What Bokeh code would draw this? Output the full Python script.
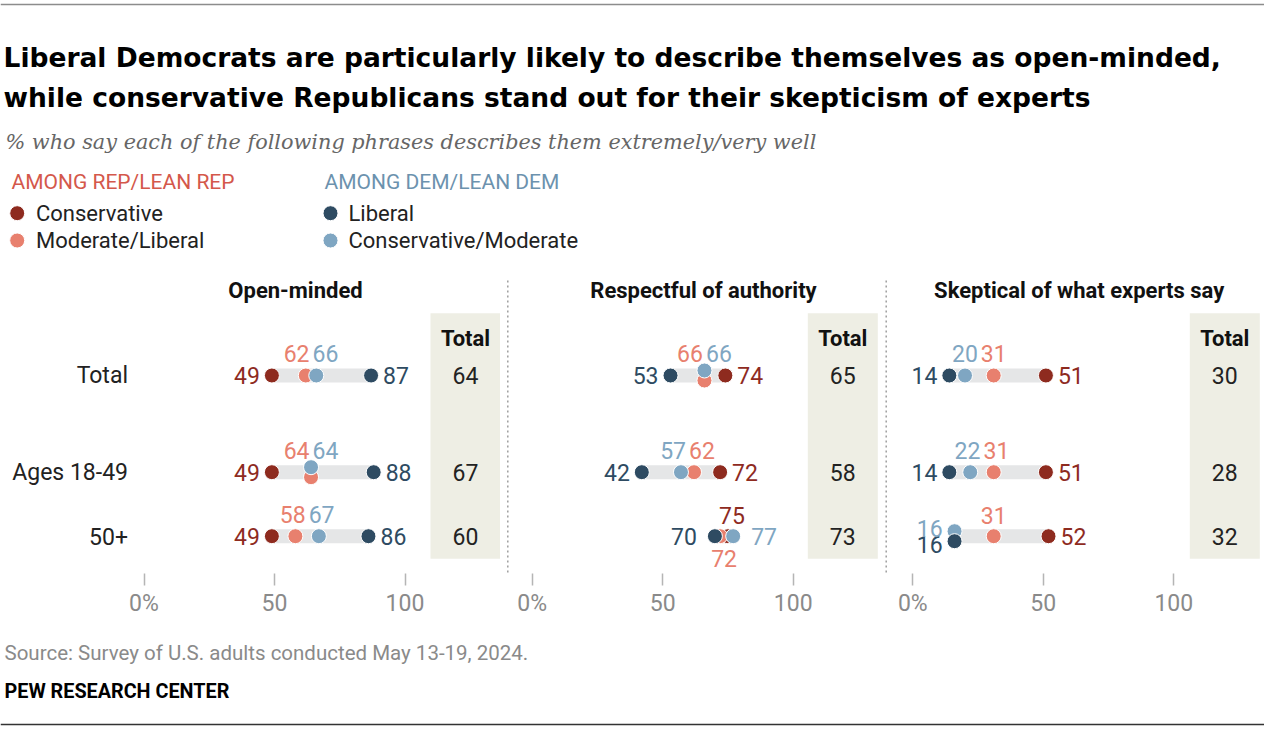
from bokeh.plotting import figure
from bokeh.layouts import column, row
from bokeh.models import Range1d, FixedTicker, ColumnDataSource
from bokeh.core.properties import value
from bokeh.embed import file_html
from bokeh.resources import INLINE

# ---------------- data ----------------
title_lines = [
    "Liberal Democrats are particularly likely to describe themselves as open-minded,",
    "while conservative Republicans stand out for their skepticism of experts",
]
subtitle = "% who say each of the following phrases describes them extremely/very well"
group_names = ["AMONG REP/LEAN REP", "AMONG DEM/LEAN DEM"]
series_names = ["Conservative", "Moderate/Liberal", "Liberal", "Conservative/Moderate"]
panel_titles = ["Open-minded", "Respectful of authority", "Skeptical of what experts say"]
row_labels = ["Total", "Ages 18-49", "50+"]
total_header = "Total"

# values per panel (outer) and per row (inner)
rep_conservative = [[49, 49, 49], [74, 72, 75], [51, 51, 52]]
rep_moderate = [[62, 64, 58], [66, 62, 72], [31, 31, 31]]
dem_liberal = [[87, 88, 86], [53, 42, 70], [14, 14, 16]]
dem_conservative = [[66, 64, 67], [66, 57, 77], [20, 22, 16]]
totals = [[64, 67, 60], [65, 58, 73], [30, 28, 32]]

tick_values = [0, 50, 100]
tick_labels = ["0%", "50", "100"]
source_note = "Source: Survey of U.S. adults conducted May 13-19, 2024."
brand = "PEW RESEARCH CENTER"

# ---------------- style / layout ----------------
FONT = "Roboto"
TITLE_FONT = "DejaVu Sans"
SERIF = "DejaVu Serif"
series_colors = ["#8E2B1F", "#E8806E", "#2E4B62", "#7FA6C2"]
group_colors = ["#D4584B", "#6C92AE"]
TRACK = "#E5E6E7"
BOX = "#EEEEE4"
INK = "#222222"
GRAY = "#8A8A8A"

W = 1264
HEAD_H = 270
FOOT_H = 107
PXU = 2.61                      # pixels per percentage point
panel_edges = [0, 500, 878, 1264]
zero_px = [143.5, 531.7, 912.3]
FRAME_H = 303
row_y = [105, 201.7, 265.7]
title_px = [295, 703, 1078.7]
title_y = 20
header_y = 68.3
BOX_TOP, BOX_BOTTOM = 42.7, 288.3
box_px = [430, 807.3, 1189.3]
BOX_W = 70
sep_px = [None, 507.3, 885.7]
DOT = 15
TIE = 5
SIDE_GAP = 12
WIDE_GAP = 18
ABOVE = 22
LABEL_W = 26
LABEL_FS = "23px"

# label placement per panel, per row, per series (rc, rm, dl, dc)
placement = [
    [["L", "A", "R", "A"], ["L", "A", "R", "A"], ["L", "A", "R", "A"]],
    [["R", "A", "L", "A"], ["R", "A", "L", "A"], ["A", "B", "L2", "R2"]],
    [["R", "A", "L", "A"], ["R", "A", "L", "A"], ["R", "A", "LB", "LA"]],
]


def tk(size, color, align="left", baseline="middle", style="normal", font=FONT):
    return dict(text_font=value(font), text_font_size=size, text_color=color,
                text_align=align, text_baseline=baseline, text_font_style=style)


def blank_fig(fw, fh, xr, yr):
    p = figure(frame_width=fw, frame_height=fh, x_range=xr, y_range=yr,
               output_backend="svg", toolbar_location=None, min_border=0,
               min_border_left=0, min_border_right=0, min_border_top=0, min_border_bottom=0,
               x_axis_location=None, y_axis_location=None,
               background_fill_color="white", border_fill_color="white",
               outline_line_color=None)
    p.grid.visible = False
    return p


# ---------------- header ----------------
head = blank_fig(W, HEAD_H, Range1d(0, W), Range1d(HEAD_H, 0))
head.segment(x0=[0], y0=[4], x1=[W], y1=[4], line_color="#8C8C8C", line_width=1.5)
head.text(x=[3, 3], y=[57, 97], text=title_lines,
          **tk("26.5px", "#000000", baseline="alphabetic", style="bold", font=TITLE_FONT))
head.text(x=[5], y=[141.5], text=[subtitle],
          **tk("20.8px", "#666666", baseline="alphabetic", style="italic", font=SERIF))
group_x = [11, 324]
head.text(x=[group_x[0]], y=[181.7], text=[group_names[0]], **tk("21px", group_colors[0]))
head.text(x=[group_x[1]], y=[181.7], text=[group_names[1]], **tk("21px", group_colors[1]))
leg_dot_x = [16.7, 16.7, 330, 330]
leg_text_x = [35.5, 35.5, 348, 348]
leg_y = [212.7, 240, 212.7, 240]
head.scatter(x=leg_dot_x, y=leg_y, size=DOT, fill_color=series_colors, line_color="white",
             line_width=1)
head.text(x=leg_text_x, y=leg_y, text=series_names, **tk("22px", INK))

# ---------------- panels ----------------
panels = []
for k in range(3):
    vals = [rep_conservative[k], rep_moderate[k], dem_liberal[k], dem_conservative[k]]

    def d(px, k=k):
        return (px - zero_px[k]) / PXU

    fw = panel_edges[k + 1] - panel_edges[k]
    p = figure(frame_width=fw, frame_height=FRAME_H,
               x_range=Range1d(d(panel_edges[k]), d(panel_edges[k + 1])),
               y_range=Range1d(FRAME_H, 0), output_backend="svg", toolbar_location=None,
               min_border=0, min_border_left=0, min_border_right=0, min_border_top=0,
               min_border_bottom=0, y_axis_location=None,
               background_fill_color="white", border_fill_color="white",
               outline_line_color=None)
    p.grid.visible = False
    ax = p.xaxis[0]
    ax.ticker = FixedTicker(ticks=tick_values)
    ax.major_label_overrides = {t: l for t, l in zip(tick_values, tick_labels)}
    ax.axis_line_color = None
    ax.major_tick_in = 0
    ax.major_tick_out = 12
    ax.major_tick_line_color = "#B5B5B5"
    ax.major_tick_line_width = 1.5
    ax.minor_tick_line_color = None
    ax.major_label_standoff = 4
    ax.major_label_text_color = GRAY
    ax.major_label_text_font = FONT
    ax.major_label_text_font_size = LABEL_FS

    # separator
    if sep_px[k] is not None:
        sx = d(sep_px[k])
        p.segment(x0=[sx], y0=[10], x1=[sx], y1=[FRAME_H], line_color="#9E9E9E",
                  line_width=1.5, line_dash="2 3")

    # total column
    bl, br = d(box_px[k]), d(box_px[k] + BOX_W)
    bc = (bl + br) / 2
    p.quad(left=[bl], right=[br], top=[BOX_TOP], bottom=[BOX_BOTTOM], fill_color=BOX,
           line_color=None)
    p.text(x=[bc], y=[header_y], text=[total_header],
           **tk("22px", "#111111", "center", style="bold"))
    p.text(x=[bc] * 3, y=row_y, text=[str(t) for t in totals[k]], **tk(LABEL_FS, INK, "center"))

    # panel title
    p.text(x=[d(title_px[k])], y=[title_y], text=[panel_titles[k]],
           **tk("22px", "#111111", "center", style="bold"))

    # row labels
    if k == 0:
        p.text(x=[0] * 3, y=row_y, text=row_labels, x_offset=-16, **tk(LABEL_FS, INK, "right"))

    # track
    lo = [min(v[r] for v in vals) for r in range(3)]
    hi = [max(v[r] for v in vals) for r in range(3)]
    p.hbar(y=row_y, left=lo, right=hi, height=14, fill_color=TRACK, line_color=None)

    # tie offsets
    offs = [[0.0] * 3 for _ in range(4)]
    for r in range(3):
        for s in range(4):
            if any(vals[s2][r] == vals[s][r] for s2 in range(4) if s2 != s):
                offs[s][r] = -TIE if s == 3 else TIE

    for s in [0, 1, 3, 2]:
        p.scatter(x=vals[s], y=[row_y[r] + offs[s][r] for r in range(3)], size=DOT,
                  fill_color=series_colors[s], line_color="white", line_width=1)

    # value labels
    lab = {"left": dict(x=[], y=[], t=[], c=[], xo=[]),
           "center": dict(x=[], y=[], t=[], c=[], xo=[]),
           "right": dict(x=[], y=[], t=[], c=[], xo=[])}

    def add(align, x, y, s, v, xo=0.0):
        L = lab[align]
        L["x"].append(x); L["y"].append(y); L["t"].append(str(v))
        L["c"].append(series_colors[s]); L["xo"].append(xo)

    for r in range(3):
        codes = placement[k][r]
        ry = row_y[r]
        a_idx = [s for s in range(4) if codes[s] == "A"]
        paired = False
        if len(a_idx) == 2:
            s_lo, s_hi = sorted(a_idx, key=lambda s: (vals[s][r], s))
            v_lo, v_hi = vals[s_lo][r], vals[s_hi][r]
            if (v_hi - v_lo) * PXU < LABEL_W + 3:
                mid = (v_lo + v_hi) / 2
                add("right", mid, ry - ABOVE, s_lo, v_lo, -1.5)
                add("left", mid, ry - ABOVE, s_hi, v_hi, 1.5)
                paired = True
        for s in range(4):
            v = vals[s][r]
            c = codes[s]
            if c == "A" and not paired:
                add("center", v, ry - ABOVE + (1 if len(a_idx) == 1 else 0), s, v,
                    4 if len(a_idx) == 1 and codes.count("B") else 0)
            elif c == "B":
                add("center", v, ry + ABOVE, s, v, 4)
            elif c == "L":
                add("right", v, ry, s, v, -SIDE_GAP)
            elif c == "R":
                add("left", v, ry, s, v, SIDE_GAP)
            elif c == "L2":
                add("right", v, ry, s, v, -WIDE_GAP)
            elif c == "R2":
                add("left", v, ry, s, v, WIDE_GAP)
            elif c == "LA":
                add("right", v, ry - 8, s, v, -SIDE_GAP)
            elif c == "LB":
                add("right", v, ry + 8, s, v, -SIDE_GAP)

    for align, L in lab.items():
        if not L["x"]:
            continue
        src = ColumnDataSource(dict(x=L["x"], y=L["y"], t=L["t"], col=L["c"], xo=L["xo"]))
        p.text(x="x", y="y", text="t", source=src, x_offset="xo",
               text_color="col", text_font=value(FONT), text_font_size=LABEL_FS,
               text_align=align, text_baseline="middle")
    panels.append(p)

# ---------------- footer ----------------
foot = blank_fig(W, FOOT_H, Range1d(0, W), Range1d(FOOT_H, 0))
foot.text(x=[4], y=[33], text=[source_note], **tk("20.5px", "#8A8A8A"))
foot.text(x=[4], y=[72], text=[brand], **tk("19.8px", "#000000", style="bold"))
foot.segment(x0=[0], y0=[FOOT_H - 2], x1=[W], y1=[FOOT_H - 2], line_color="#333333",
             line_width=1.5)

layout = column(head, row(*panels, spacing=0), foot, spacing=0)
open("out.html", "w").write(file_html(layout, INLINE))
